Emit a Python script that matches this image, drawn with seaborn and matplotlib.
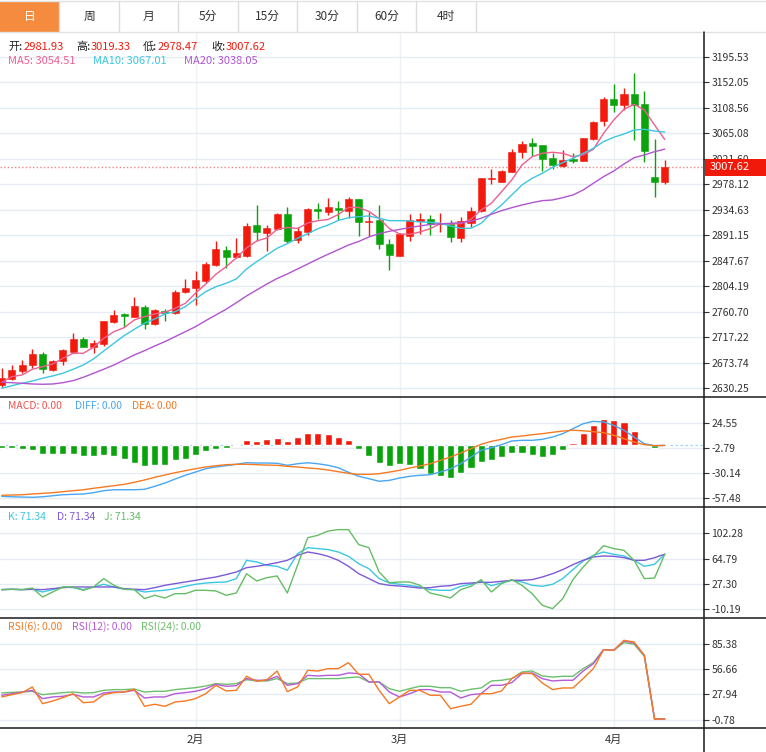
import numpy as np
import matplotlib
matplotlib.use('Agg')
import matplotlib.pyplot as plt
import seaborn as sns
from matplotlib.patches import Rectangle

# ---------------- data ----------------
open_ = [2635.9, 2646.1, 2660.3, 2669.5, 2688.8, 2661.5, 2677.4, 2692.7, 2714.4, 2701.2,
         2705.3, 2743.9, 2756.5, 2752.4, 2769.4, 2739.4, 2762.1, 2758.2, 2794.0, 2801.8,
         2813.8, 2840.0, 2865.6, 2853.8, 2855.9, 2907.9, 2895.6, 2901.9, 2927.5, 2882.8,
         2897.3, 2935.5, 2931.4, 2937.7, 2932.6, 2952.7, 2913.5, 2917.8, 2876.9, 2856.4,
         2890.5, 2916.1, 2918.4, 2909.6, 2910.4, 2887.1, 2911.6, 2932.6, 2987.2, 2982.6,
         2999.6, 3033.2, 3048.0, 3044.6, 3022.5, 3009.9, 3020.8, 3018.4, 3055.4, 3086.1,
         3123.6, 3113.7, 3131.8, 3115.1, 2990.6, 2981.93]
high = [2664.4, 2670.0, 2678.5, 2697.3, 2692.7, 2678.5, 2697.3, 2724.6, 2717.3, 2712.6,
        2745.6, 2763.8, 2759.2, 2786.5, 2772.3, 2765.0, 2766.0, 2797.9, 2817.2, 2830.8,
        2845.1, 2882.0, 2872.9, 2886.2, 2911.6, 2942.8, 2908.4, 2929.2, 2939.4, 2904.5,
        2936.9, 2946.2, 2954.4, 2949.3, 2956.5, 2953.1, 2930.6, 2942.8, 2884.9, 2894.6,
        2927.8, 2929.2, 2926.6, 2930.0, 2917.8, 2922.9, 2939.9, 2988.9, 3003.7, 3002.5,
        3037.8, 3052.0, 3057.6, 3045.1, 3032.0, 3036.1, 3031.0, 3057.9, 3086.6, 3127.5,
        3149.2, 3141.8, 3167.9, 3136.7, 3055.4, 3019.33]
low = [2632.5, 2644.4, 2655.9, 2664.4, 2656.9, 2659.8, 2669.5, 2690.0, 2700.2, 2690.0,
       2702.9, 2742.1, 2735.3, 2751.8, 2730.9, 2738.2, 2745.6, 2756.5, 2792.3, 2772.8,
       2809.3, 2838.8, 2834.9, 2852.5, 2854.2, 2881.5, 2864.4, 2900.2, 2877.2, 2878.6,
       2891.7, 2919.0, 2925.3, 2917.3, 2920.7, 2889.1, 2890.0, 2867.8, 2832.5, 2855.9,
       2882.0, 2893.9, 2891.3, 2896.8, 2879.8, 2879.8, 2905.8, 2930.9, 2979.2, 2981.2,
       2999.1, 3023.5, 3025.9, 3000.3, 3003.7, 3008.1, 3013.9, 3017.0, 3053.7, 3077.5,
       3100.9, 3104.8, 3053.7, 3016.7, 2957.0, 2978.47]
close = [2647.3, 2661.5, 2670.0, 2688.8, 2662.7, 2676.8, 2696.1, 2714.4, 2701.2, 2707.5,
         2744.5, 2755.8, 2753.6, 2770.6, 2739.9, 2763.8, 2759.2, 2794.5, 2800.8, 2815.0,
         2842.2, 2867.3, 2854.7, 2861.8, 2907.5, 2896.3, 2903.6, 2928.3, 2881.5, 2898.2,
         2935.2, 2932.1, 2939.4, 2934.3, 2952.7, 2913.9, 2916.1, 2875.8, 2857.9, 2893.7,
         2917.3, 2918.6, 2909.6, 2911.6, 2887.9, 2915.2, 2932.6, 2988.4, 2989.2, 3000.8,
         3033.2, 3046.9, 3044.0, 3021.8, 3011.0, 3019.6, 3018.4, 3057.1, 3084.9, 3123.6,
         3113.3, 3132.1, 3113.3, 3035.4, 2981.9, 3007.62]

ma5 = [2640.5, 2650.1, 2653.0, 2662.7, 2667.1, 2671.7, 2681.4, 2690.0, 2690.0, 2700.2,
       2715.5, 2726.8, 2733.6, 2746.8, 2752.4, 2757.0, 2759.9, 2766.7, 2775.2, 2792.3,
       2808.1, 2824.7, 2837.6, 2852.5, 2869.5, 2881.5, 2886.6, 2901.1, 2904.5, 2902.8,
       2912.1, 2916.1, 2918.1, 2926.6, 2938.6, 2938.6, 2931.8, 2919.8, 2902.8, 2893.4,
       2892.9, 2896.8, 2902.4, 2911.0, 2910.4, 2911.0, 2918.5, 2934.3, 2945.7, 2965.5,
       2985.5, 3011.0, 3025.2, 3031.0, 3032.7, 3031.0, 3025.2, 3028.1, 3037.8, 3065.1,
       3087.8, 3106.0, 3114.5, 3104.8, 3079.2, 3054.51]
ma10 = [2630.3, 2634.7, 2638.8, 2642.7, 2647.3, 2651.3, 2655.9, 2662.7, 2670.0, 2680.3,
        2693.9, 2707.0, 2720.0, 2730.9, 2741.1, 2748.5, 2757.0, 2760.9, 2769.4, 2782.6,
        2795.0, 2803.5, 2809.3, 2816.7, 2833.7, 2846.2, 2857.6, 2869.0, 2876.9, 2886.1,
        2893.9, 2902.4, 2908.7, 2916.4, 2921.2, 2922.9, 2924.1, 2920.2, 2916.1, 2916.1,
        2915.6, 2913.8, 2913.3, 2911.6, 2907.0, 2903.1, 2903.1, 2911.6, 2928.7, 2942.8,
        2959.9, 2976.9, 2988.4, 2996.9, 3007.1, 3015.0, 3022.5, 3031.0, 3039.5, 3050.8,
        3058.3, 3063.9, 3070.7, 3071.9, 3069.0, 3067.01]
ma20 = [2640.5, 2639.8, 2638.8, 2637.6, 2637.1, 2637.6, 2639.8, 2643.3, 2649.0, 2655.9,
        2662.7, 2670.0, 2678.5, 2687.1, 2694.4, 2702.4, 2709.8, 2718.3, 2726.8, 2735.3,
        2745.6, 2755.3, 2765.0, 2776.2, 2787.7, 2797.9, 2808.1, 2817.5, 2825.2, 2833.7,
        2842.2, 2850.8, 2858.9, 2866.6, 2874.6, 2880.6, 2888.3, 2893.9, 2898.0, 2901.1,
        2904.5, 2907.0, 2909.6, 2910.8, 2911.6, 2912.6, 2915.0, 2920.2, 2927.0, 2933.1,
        2938.2, 2942.8, 2946.8, 2950.2, 2951.4, 2955.3, 2959.9, 2968.4, 2979.8, 2991.1,
        3000.8, 3012.7, 3023.5, 3028.1, 3033.7, 3038.05]

macd = [-2.5, -2.8, -4.3, -5.4, -9.7, -9.0, -9.0, -9.7, -11.9, -11.9,
        -10.4, -11.9, -15.1, -18.7, -22.4, -20.9, -20.9, -16.2, -14.4, -10.8,
        -6.4, -3.6, -3.2, -0.7, 5.5, 4.8, 6.6, 7.7, 4.8, 9.5,
        13.8, 13.1, 12.4, 9.5, 5.5, -4.3, -11.2, -19.1, -22.0, -19.8,
        -20.9, -25.3, -30.7, -33.6, -35.0, -29.9, -24.5, -17.7, -16.2, -12.6,
        -8.2, -7.9, -10.1, -12.6, -10.4, -4.7, 2.6, 13.8, 22.1, 28.6,
        27.2, 25.1, 15.6, 2.6, -2.5, 0.0]
diff = [-55.2, -55.7, -56.0, -56.3, -55.7, -54.6, -53.5, -53.1, -52.7, -51.3,
        -49.1, -48.1, -48.1, -48.1, -47.6, -44.4, -40.8, -36.5, -32.4, -28.9,
        -25.3, -23.4, -22.0, -20.5, -18.8, -19.1, -19.1, -19.4, -21.6, -19.9,
        -18.8, -19.9, -21.6, -24.2, -29.2, -33.5, -36.1, -38.9, -37.9, -35.4,
        -33.5, -32.4, -31.8, -28.9, -25.3, -19.9, -12.6, -5.3, -2.5, 0.8,
        4.8, 5.5, 5.5, 6.6, 9.1, 12.7, 18.1, 23.5, 26.1, 25.4,
        21.8, 16.4, 9.1, 1.8, -0.3, 0.0]
dea = [-54.1, -53.8, -53.5, -52.7, -52.0, -51.3, -50.2, -49.1, -48.1, -46.5,
       -45.1, -43.7, -42.2, -40.0, -37.5, -34.6, -32.1, -29.6, -27.4, -25.3,
       -23.4, -22.0, -20.9, -20.5, -20.5, -20.9, -21.3, -21.6, -22.7, -23.4,
       -24.5, -25.3, -26.7, -28.5, -30.3, -31.4, -31.4, -30.7, -28.9, -27.0,
       -24.5, -22.3, -19.9, -16.2, -12.6, -8.2, -3.6, 1.2, 4.4, 6.6,
       9.1, 10.2, 11.6, 12.7, 14.2, 15.6, 16.4, 15.9, 14.9, 13.8,
       11.0, 7.3, 3.7, 0.8, -0.3, 0.0]

k_line = [18.9, 19.4, 18.9, 19.4, 15.4, 18.9, 22.8, 21.8, 18.9, 22.8,
          26.8, 22.8, 19.4, 18.9, 15.4, 16.9, 17.9, 20.4, 23.8, 26.8,
          28.7, 29.7, 30.2, 35.2, 62.3, 59.8, 54.9, 53.4, 47.5, 72.1,
          81.0, 79.6, 78.1, 74.6, 68.2, 57.3, 49.9, 35.2, 28.7, 26.8,
          25.3, 22.8, 18.9, 17.9, 17.9, 23.8, 26.8, 31.2, 24.8, 28.7,
          32.7, 30.2, 25.3, 23.8, 26.8, 35.2, 48.5, 61.3, 69.7, 74.6,
          71.2, 68.7, 62.3, 53.4, 56.4, 71.34]
d_line = [18.9, 19.4, 18.9, 19.4, 18.9, 20.4, 21.8, 22.8, 22.8, 22.8,
          22.8, 22.8, 20.4, 19.4, 18.9, 21.8, 25.3, 27.8, 30.2, 32.7,
          35.2, 37.6, 41.1, 45.0, 51.4, 53.4, 55.9, 58.8, 62.3, 69.7,
          74.6, 72.1, 68.2, 62.3, 53.4, 42.5, 35.2, 27.8, 25.3, 24.3,
          22.8, 21.3, 21.8, 23.8, 24.8, 27.8, 28.7, 29.7, 29.7, 31.2,
          32.7, 32.7, 33.7, 37.6, 42.5, 48.5, 55.9, 62.3, 67.2, 68.7,
          68.2, 66.2, 62.3, 62.3, 66.2, 71.34]
j_line = [18.9, 19.4, 18.9, 21.3, 8.0, 15.4, 22.8, 22.8, 17.9, 22.8,
          35.2, 25.3, 19.4, 18.9, 5.6, 10.5, 6.5, 12.9, 12.9, 17.9,
          17.9, 16.9, 10.5, 13.9, 42.5, 31.7, 36.6, 39.1, 13.9, 54.9,
          95.8, 99.3, 105.7, 107.7, 107.7, 85.5, 81.0, 45.0, 29.2, 30.2,
          30.2, 25.3, 13.9, 10.5, 6.5, 18.9, 23.8, 33.7, 15.4, 27.8,
          33.7, 25.3, 12.9, -4.3, -9.2, 5.6, 33.7, 52.4, 68.2, 84.0,
          79.6, 77.1, 62.3, 35.2, 36.1, 71.34]

rsi6 = [25.0, 27.6, 29.9, 36.3, 17.4, 20.4, 24.2, 28.7, 18.5, 19.3,
        27.6, 29.9, 30.6, 33.7, 14.4, 16.7, 14.4, 19.3, 20.4, 23.1,
        28.7, 38.2, 31.8, 32.5, 48.4, 42.7, 44.6, 54.4, 31.0, 36.3,
        55.2, 54.4, 57.1, 57.1, 63.9, 50.7, 50.7, 32.5, 17.4, 25.0,
        32.5, 32.5, 26.9, 26.9, 11.7, 14.4, 16.7, 28.7, 28.7, 31.8,
        45.8, 52.2, 51.4, 40.8, 33.3, 35.2, 35.2, 45.8, 57.1, 78.6,
        77.9, 89.2, 87.3, 72.2, 0.0, 0.0]
rsi12 = [26.9, 28.7, 30.6, 32.5, 23.1, 25.0, 25.7, 28.0, 25.0, 25.0,
         29.5, 30.6, 30.6, 32.5, 23.8, 25.0, 25.0, 28.7, 29.9, 31.4,
         34.4, 39.3, 37.1, 37.8, 45.8, 43.9, 43.9, 48.4, 38.2, 40.1,
         49.5, 48.8, 49.5, 49.5, 52.2, 51.4, 42.0, 42.0, 30.6, 25.0,
         28.7, 33.3, 33.3, 30.6, 30.6, 23.8, 27.6, 28.7, 38.2, 38.2,
         41.2, 51.4, 52.2, 45.8, 43.1, 43.9, 43.9, 54.4, 62.7, 78.6,
         77.9, 88.5, 86.2, 72.2, 0.0, 0.0]
rsi24 = [29.5, 30.2, 30.6, 31.4, 27.6, 28.7, 29.9, 30.6, 29.5, 29.9,
         32.5, 33.3, 33.3, 34.0, 30.6, 31.4, 31.4, 33.3, 34.4, 35.5,
         37.4, 40.1, 39.3, 40.1, 44.6, 43.1, 43.1, 45.8, 40.1, 40.8,
         45.8, 45.8, 45.8, 45.8, 46.9, 47.6, 42.0, 42.0, 34.4, 31.4,
         34.4, 37.1, 37.1, 35.5, 35.5, 31.4, 33.7, 35.2, 43.1, 43.9,
         45.8, 53.3, 54.4, 48.8, 47.6, 48.4, 48.4, 57.1, 63.9, 78.6,
         77.9, 86.6, 84.7, 71.1, 0.0, 0.0]

main_ticks = ["2630.25", "2673.74", "2717.22", "2760.70", "2804.19", "2847.67", "2891.15",
              "2934.63", "2978.12", "3021.60", "3065.08", "3108.56", "3152.05", "3195.53"]
macd_ticks = ["-57.48", "-30.14", "-2.79", "24.55"]
kdj_ticks = ["-10.19", "27.30", "64.79", "102.28"]
rsi_ticks = ["-0.78", "27.94", "56.66", "85.38"]
month_pos = [19, 39, 60]
month_labels = ["2月", "3月", "4月"]
tabs = ["日", "周", "月", "5分", "15分", "30分", "60分", "4时"]
last_price = 3007.62

# ---------------- style ----------------
sns.set_theme(style='white')
plt.rcParams['font.family'] = ['Noto Sans CJK SC', 'DejaVu Sans']
plt.rcParams['axes.unicode_minus'] = False

RED = '#f21a0c'
GREEN = '#0aa30c'
C_MA5, C_MA10, C_MA20 = '#ee5f8f', '#3cc7e0', '#b055cf'
C_DIFF, C_DEA = '#4aa6f2', '#f57a22'
C_K, C_D, C_J = '#3cc7e0', '#7d5ad6', '#66bd66'
C_R6, C_R12, C_R24 = '#f57a22', '#b55ad8', '#6cbf6c'
GRID = '#e6ecf1'
VGRID = '#edf1f5'
TXT = '#333333'

W, H = 766, 752
fig = plt.figure(figsize=(W / 100, H / 100), dpi=100)
fig.patch.set_facecolor('white')


def fr(x0, y0, x1, y1):
    return [x0 / W, 1 - y1 / H, (x1 - x0) / W, (y1 - y0) / H]


ax_main = fig.add_axes(fr(0, 32, 703, 397))
ax_macd = fig.add_axes(fr(0, 397, 703, 507))
ax_kdj = fig.add_axes(fr(0, 507, 703, 618))
ax_rsi = fig.add_axes(fr(0, 618, 703, 728))

idx = np.arange(len(close))
XLIM = (-0.167, 68.75)


def setup(ax, ylim, labels):
    ax.set_xlim(*XLIM)
    ax.set_ylim(*ylim)
    for s in ax.spines.values():
        s.set_visible(False)
    vals = [float(v) for v in labels]
    ax.set_yticks(vals)
    ax.set_yticklabels(labels)
    ax.yaxis.tick_right()
    ax.tick_params(axis='y', which='both', direction='out', length=4, width=0.8,
                   color=TXT, labelsize=7.5, labelcolor=TXT, pad=2, right=True, left=False)
    ax.set_xticks(month_pos)
    ax.tick_params(axis='x', length=0, labelbottom=False)
    ax.yaxis.grid(True, color=GRID, lw=1)
    ax.xaxis.grid(True, color=VGRID, lw=1)
    ax.set_axisbelow(True)
    ax.set_facecolor('white')


setup(ax_main, (2615.4, 3237.8), main_ticks)
setup(ax_macd, (-66.8, 52.5), macd_ticks)
setup(ax_kdj, (-23.1, 141.2), kdj_ticks)
setup(ax_rsi, (-10.2, 114.5), rsi_ticks)
ax_rsi.set_xticklabels(month_labels)
ax_rsi.tick_params(axis='x', labelbottom=True, labelsize=8, labelcolor=TXT, pad=5)

# ---------------- candles ----------------
o = np.array(open_); c = np.array(close); hi = np.array(high); lo = np.array(low)
up = c >= o
cols = np.where(up, RED, GREEN)
bottoms = np.minimum(o, c)
heights = np.maximum(np.abs(c - o), 1.2)
ax_main.vlines(idx, lo, hi, colors=cols, lw=1.0, zorder=3)
ax_main.bar(idx, heights, bottom=bottoms, width=0.7, color=cols, edgecolor=cols, lw=0.4, zorder=4)

for y, col in [(ma5, C_MA5), (ma10, C_MA10), (ma20, C_MA20)]:
    sns.lineplot(x=idx, y=y, ax=ax_main, color=col, lw=1.0, legend=False, zorder=5)
ax_main.axhline(last_price, color='#f08585', lw=1.0, ls=(0, (1, 1.6)), zorder=2)

# ---------------- MACD ----------------
mv = np.array(macd)
ax_macd.axhline(0, color='#9fd6f0', lw=0.9, ls=(0, (2, 2)), zorder=1)
ax_macd.bar(idx, mv, width=0.7, color=np.where(mv >= 0, RED, GREEN), zorder=3)
sns.lineplot(x=idx, y=diff, ax=ax_macd, color=C_DIFF, lw=1.0, legend=False, zorder=4)
sns.lineplot(x=idx, y=dea, ax=ax_macd, color=C_DEA, lw=1.0, legend=False, zorder=4)

# ---------------- KDJ ----------------
for y, col in [(k_line, C_K), (d_line, C_D), (j_line, C_J)]:
    sns.lineplot(x=idx, y=y, ax=ax_kdj, color=col, lw=1.0, legend=False, zorder=4)

# ---------------- RSI ----------------
for y, col in [(rsi24, C_R24), (rsi12, C_R12), (rsi6, C_R6)]:
    sns.lineplot(x=idx, y=y, ax=ax_rsi, color=col, lw=1.0, legend=False, zorder=4)

for ax in (ax_main, ax_macd, ax_kdj, ax_rsi):
    ax.set_xlabel('')
    ax.set_ylabel('')

# ---------------- overlay (tabs, borders, legends) ----------------
ov = fig.add_axes([0, 0, 1, 1], zorder=10)
ov.set_xlim(0, W)
ov.set_ylim(H, 0)
ov.axis('off')
ov.patch.set_alpha(0)

# tabs
tab_edges = [0, 59.3, 119, 178.3, 237.7, 297.3, 356.7, 416, 475.5]
ov.add_patch(Rectangle((0, 1.5), 59.3, 30, facecolor='#f48b3e', edgecolor='none'))
ov.plot([0, W], [1, 1], color='#e2e2e2', lw=1)
ov.plot([0, W], [32, 32], color='#e2e2e2', lw=1)
for xe in tab_edges[1:]:
    ov.plot([xe, xe], [1, 32], color='#dcdcdc', lw=1)
for i, t in enumerate(tabs):
    cx = (tab_edges[i] + tab_edges[i + 1]) / 2
    ov.text(cx, 16.5, t, ha='center', va='center', fontsize=8.5,
            color='white' if i == 0 else '#333333')

# black panel borders
for yb in (397, 507, 618, 728):
    ov.plot([0, W], [yb, yb], color='#1a1a1a', lw=1.1)
ov.plot([703.5, 703.5], [32, H], color='#1a1a1a', lw=1.1)

# last price box
ov.add_patch(Rectangle((704.5, 159), 61.5, 17, facecolor='#f0190a', edgecolor='none'))
ov.text(710, 167.5, f"{last_price:.2f}", ha='left', va='center', fontsize=8, color='white')

# legends
FS = 8
row1 = [(8, "开:", '#222222'), (24, "2981.93", RED), (76, "高:", '#222222'), (91, "3019.33", RED),
        (143, "低:", '#222222'), (158, "2978.47", RED), (211, "收:", '#222222'), (226, "3007.62", RED)]
for x, t, col in row1:
    ov.text(x, 46.5, t, ha='left', va='center', fontsize=FS, color=col)
row2 = [(8, "MA5: 3054.51", C_MA5), (93, "MA10: 3067.01", C_MA10), (184, "MA20: 3038.05", C_MA20)]
for x, t, col in row2:
    ov.text(x, 61.5, t, ha='left', va='center', fontsize=FS, color=col)

FS2 = 7.5
for x, t, col in [(8, "MACD: 0.00", '#f25050'), (75, "DIFF: 0.00", C_DIFF), (132, "DEA: 0.00", C_DEA)]:
    ov.text(x, 406, t, ha='left', va='center', fontsize=FS2, color=col)
for x, t, col in [(8, "K: 71.34", C_K), (57, "D: 71.34", C_D), (104, "J: 71.34", C_J)]:
    ov.text(x, 517, t, ha='left', va='center', fontsize=FS2, color=col)
for x, t, col in [(8, "RSI(6): 0.00", C_R6), (72, "RSI(12): 0.00", C_R12), (141, "RSI(24): 0.00", C_R24)]:
    ov.text(x, 627, t, ha='left', va='center', fontsize=FS2, color=col)

fig.savefig('out.png', dpi=100, facecolor='white')
